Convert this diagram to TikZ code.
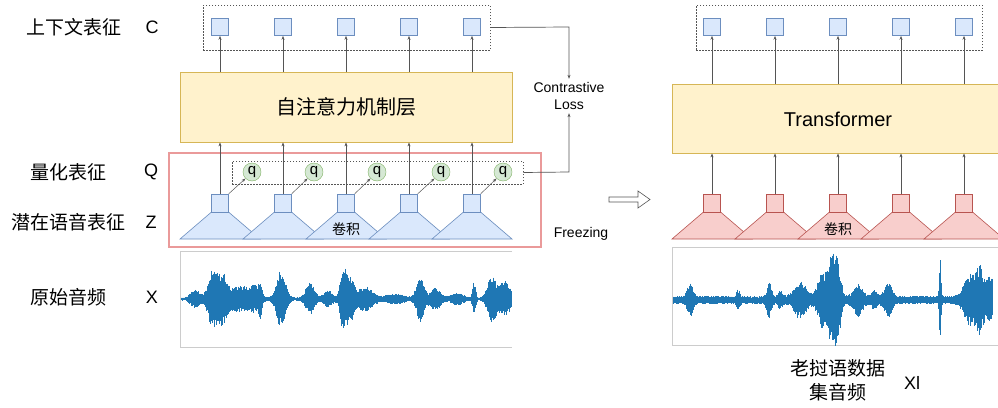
\documentclass[tikz,border=0pt]{standalone}
\usepackage{fontspec}
\setmainfont{Liberation Sans}
\newfontfamily\cjk{Noto Sans CJK SC}
\usetikzlibrary{arrows.meta,calc}
\definecolor{sqfill}{HTML}{DAE8FC}
\definecolor{sqline}{HTML}{6C8EBF}
\definecolor{pkfill}{HTML}{F8CECC}
\definecolor{pkline}{HTML}{B85450}
\definecolor{yfill}{HTML}{FFF2CC}
\definecolor{yline}{HTML}{D6B656}
\definecolor{qfill}{HTML}{D5E8D4}
\definecolor{qline}{HTML}{82B366}
\definecolor{frz}{HTML}{EA9A9A}
\definecolor{agray}{HTML}{555555}
\definecolor{wblue}{HTML}{1F77B4}
\definecolor{boxgray}{HTML}{CCCCCC}
\pgfmathdeclarefunction{gb}{4}{\pgfmathparse{#3*exp(-1*pow(min(abs(#1-#2)/#4,5),2))}}
\pgfmathdeclarefunction{envL}{1}{\pgfmathparse{1.5+gb(#1,195,8,6)+gb(#1,212,27,6)+gb(#1,222,23,6)+gb(#1,240,12,14)+gb(#1,255,9,6)+gb(#1,260,13,2)+gb(#1,281,29,6)+gb(#1,310,15,6)+gb(#1,328,7,6)+gb(#1,343,28,4)+gb(#1,350,20,5)+gb(#1,365,11,10)+gb(#1,395,4,12)+gb(#1,420,22,5)+gb(#1,435,10,7)+gb(#1,457,5,8)+gb(#1,474,16,2)+gb(#1,492,22,6)+gb(#1,505,18,6)}}
\pgfmathdeclarefunction{envR}{1}{\pgfmathparse{4+gb(#1,690,14,4)+gb(#1,738,7,2)+gb(#1,769,14,3)+gb(#1,780,6,3)+gb(#1,800,15,8)+gb(#1,822,24,6)+gb(#1,832,40,5)+gb(#1,838,28,4)+gb(#1,858,13,6)+gb(#1,874,6,4)+gb(#1,888,15,5)+gb(#1,940,36,1.2)+gb(#1,970,22,8)+gb(#1,980,26,5)+gb(#1,990,20,5)}}
\begin{document}
\begin{tikzpicture}[x=1pt,y=-1pt,
  sq/.style={draw=sqline, fill=sqfill, minimum width=17pt, minimum height=17pt, inner sep=0pt, line width=0.6pt},
  zsq/.style={sq, minimum height=18pt},
  psq/.style={zsq, draw=pkline, fill=pkfill},
  trap/.style={draw=sqline, fill=sqfill, line width=0.6pt},
  ptrap/.style={draw=pkline, fill=pkfill, line width=0.6pt},
  yel/.style={draw=yline, fill=yfill, line width=0.8pt, inner sep=0pt},
  arr/.style={draw=agray, line width=0.7pt, -{Stealth[length=4pt,width=3pt]}},
  dbox/.style={draw=agray, dash pattern=on 1.5pt off 1.5pt, line width=0.5pt, inner sep=0pt},
  qc/.style={circle, draw=qline, fill=qfill, minimum size=18pt, inner sep=0pt, font=\fontsize{15}{15}\selectfont},
  lab/.style={font=\cjk\fontsize{19}{24}\selectfont},
  let/.style={font=\fontsize{18}{18}\selectfont},
  small/.style={font=\fontsize{14}{17}\selectfont},
  wave/.style={draw=wblue, line width=0.9pt}
]
\clip (0,0) rectangle (998,407);
\fill[white] (0,0) rectangle (998,407);

% ---------- left labels ----------
\node[lab] (lc) at (74,27) {上下文表征};
\node[let] (lC) at (152,27) {C};
\node[lab] (lq) at (68,172) {量化表征};
\node[let] (lQ) at (151,172) {Q};
\node[lab] (lz) at (69,222) {潜在语音表征};
\node[let] (lZ) at (151,222) {Z};
\node[lab] (lx) at (68,297) {原始音频};
\node[let] (lX) at (152,297) {X};

% ---------- left model ----------
\node[dbox, minimum width=287pt, minimum height=45pt] (ctop) at (346.5,27.5) {};
\node[yel, minimum width=332pt, minimum height=70pt, font=\cjk\fontsize{20}{20}\selectfont] (att) at (346,107) {自注意力机制层};
\draw[draw=frz, line width=1.6pt] (169,153) rectangle (541,247);
\node[dbox, minimum width=291pt, minimum height=23pt] (qbox) at (377.5,172.5) {};
\foreach \i/\xx/\qx in {1/220/252,2/283/314,3/346/377,4/409/441,5/472/503}{
  \filldraw[trap] (\xx-8.5,212) -- (\xx+8.5,212) -- (\xx+40,239) -- (\xx-40,239) -- cycle;
  \node[zsq] (z\i) at (\xx,203) {};
  \node[sq] (c\i) at (\xx,27) {};
  \node[qc] (q\i) at (\qx,172) {q};
  \draw[arr] (z\i.north) -- (att.south -| z\i.north);
  \draw[arr] (att.north -| c\i.south) -- (c\i.south);
  \draw[arr, line width=0.5pt] (z\i.north east) -- (q\i.south west);
}
\node[font=\cjk\fontsize{14}{14}\selectfont] (conv1) at (346,229) {卷积};

% ---------- left waveform ----------
\draw[boxgray, line width=0.8pt] (512,251) -- (180,251) -- (180,347) -- (512,347);
\pgfmathsetseed{7}
\foreach \x in {181,181.5,...,511}{
  \pgfmathsetmacro\a{envL(\x)}
  \pgfmathsetmacro\t{\a*(0.6+0.4*rnd)}
  \pgfmathsetmacro\b{\a*(0.6+0.4*rnd)}
  \draw[wave] (\x,299-\t) -- (\x,299+\b);
}

% ---------- contrastive loss ----------
\node[small, align=center] (loss) at (569,96) {Contrastive\\Loss};
\coordinate (k1) at (569,27);
\coordinate (k2) at (569,172);
\draw[arr] (ctop.east) -- (k1) -- (loss.north);
\draw[arr] (qbox.east) -- (k2) -- (loss.south);
\node[small] (frz) at (581,234) {Freezing};

% hollow arrow
\draw[agray, line width=0.6pt, fill=white] (609,197) -- (638,197) -- (638,191) -- (650,199.5) -- (638,208) -- (638,202) -- (609,202) -- cycle;

% ---------- right model ----------
\node[dbox, minimum width=286pt, minimum height=45pt] (rtop) at (839,27.5) {};
\node[yel, minimum width=330pt, minimum height=69pt] (tf) at (837,118.5) {};
\node[font=\fontsize{20}{20}\selectfont] (tft) at (838,119) {Transformer};
\foreach \i/\xx in {1/712,2/775,3/838,4/901,5/964}{
  \filldraw[ptrap] (\xx-8.5,212) -- (\xx+8.5,212) -- (\xx+40,239) -- (\xx-40,239) -- cycle;
  \node[psq] (p\i) at (\xx,203) {};
  \node[sq] (r\i) at (\xx,27) {};
  \draw[arr] (p\i.north) -- (tf.south -| p\i.north);
  \draw[arr] (tf.north -| r\i.south) -- (r\i.south);
}
\node[font=\cjk\fontsize{14}{14}\selectfont] (conv2) at (838,229) {卷积};

% ---------- right waveform ----------
\draw[boxgray, line width=0.8pt] (1000,247) -- (672,247) -- (672,345) -- (1000,345);
\pgfmathsetseed{11}
\foreach \x in {673,673.5,...,992}{
  \pgfmathsetmacro\a{envR(\x)}
  \pgfmathsetmacro\t{\a*(0.6+0.4*rnd)}
  \pgfmathsetmacro\b{\a*(0.6+0.4*rnd)}
  \draw[wave] (\x,300-\t) -- (\x,300+\b);
}
\node[lab, align=center] (lao) at (838,380) {老挝语数据\\集音频};
\node[let] (xl) at (912,383) {Xl};
\end{tikzpicture}
\end{document}
